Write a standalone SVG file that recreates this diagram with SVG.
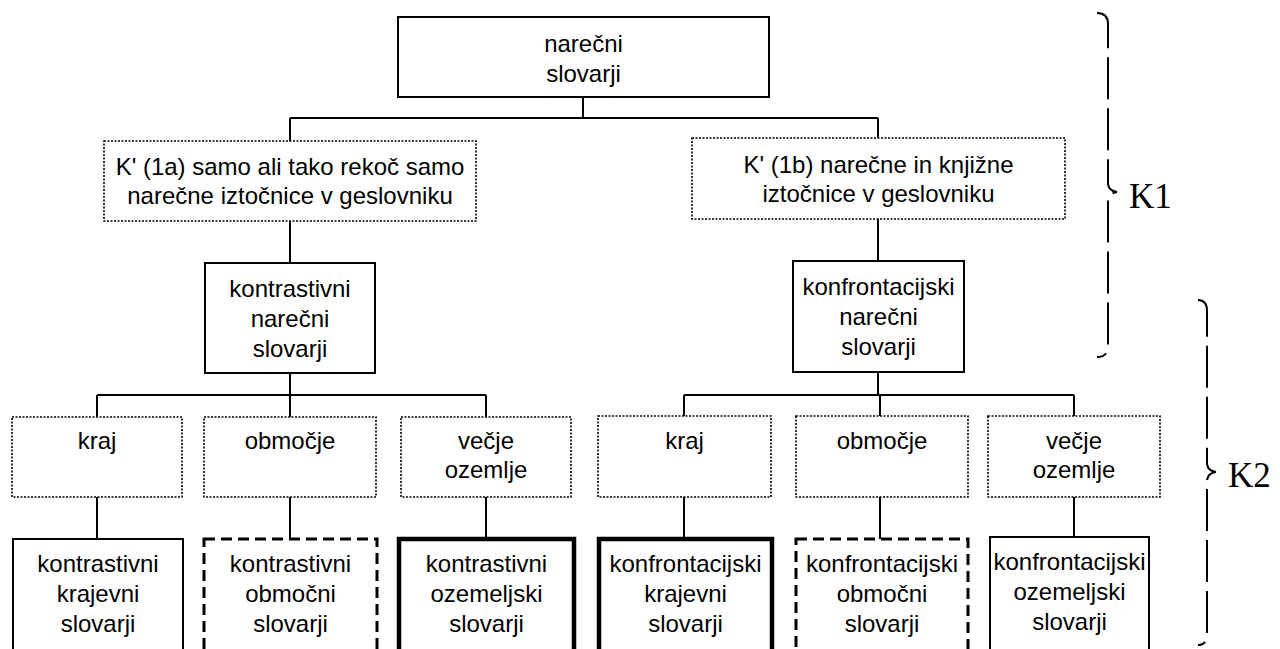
<svg xmlns="http://www.w3.org/2000/svg" width="1280" height="649" viewBox="0 0 1280 649">
<style>
  .bg { fill: #ffffff; }
  rect { fill: #ffffff; stroke: #000000; }
  .solid { stroke-width: 2; }
  .dotted { stroke-width: 1.6; stroke-dasharray: 2 1.5; }
  .dashed { stroke-width: 3; stroke-dasharray: 11 6; }
  .thick { stroke-width: 4.5; }
  text { font-family: "Liberation Sans", Arial, sans-serif; font-size: 24px; fill: #000000; text-anchor: middle; }
  .lbl { font-family: "Liberation Serif", "Times New Roman", serif; font-size: 35px; text-anchor: start; }
  #connectors path { fill: none; stroke: #000000; stroke-width: 2; }
  .brace { fill: none; stroke: #000000; stroke-width: 2; stroke-dasharray: 42 9; }
</style>
<rect class="bg" x="0" y="0" width="1280" height="649" style="stroke:none"/>

<g id="connectors">
  <path d="M583,97 V118 M290,118 H878 M290,118 V141 M878,118 V138"/>
  <path d="M290,221 V263 M878,219 V261"/>
  <path d="M290,373 V395 M97,395 H486 M97,395 V417 M290,395 V417 M486,395 V417"/>
  <path d="M878,372 V395 M684,395 H1074 M684,395 V416 M880,395 V416 M1074,395 V416"/>
  <path d="M97,497 V539 M290,497 V539 M486,497 V539 M684,497 V539 M880,497 V539 M1074,497 V537"/>
</g>

<g id="n-root">
  <rect class="solid" x="398" y="17" width="371" height="80"/>
  <text x="583.5" y="52">narečni</text>
  <text x="583.5" y="82">slovarji</text>
</g>

<g id="n-k1a">
  <rect class="dotted" x="104" y="141" width="372" height="80"/>
  <text x="290" y="175">K' (1a) samo ali tako rekoč samo</text>
  <text x="290" y="204">narečne iztočnice v geslovniku</text>
</g>

<g id="n-k1b">
  <rect class="dotted" x="692" y="138" width="373" height="81"/>
  <text x="878.5" y="173">K' (1b) narečne in knjižne</text>
  <text x="878.5" y="202">iztočnice v geslovniku</text>
</g>

<g id="n-kontrastivni">
  <rect class="solid" x="205" y="263" width="170" height="110"/>
  <text x="290" y="297">kontrastivni</text>
  <text x="290" y="327">narečni</text>
  <text x="290" y="357">slovarji</text>
</g>

<g id="n-konfrontacijski">
  <rect class="solid" x="793" y="261" width="171" height="111"/>
  <text x="878.5" y="295">konfrontacijski</text>
  <text x="878.5" y="325">narečni</text>
  <text x="878.5" y="355">slovarji</text>
</g>

<g id="n-l-kraj">
  <rect class="dotted" x="12" y="417" width="170" height="80"/>
  <text x="97" y="449">kraj</text>
</g>
<g id="n-l-obmocje">
  <rect class="dotted" x="204" y="417" width="172" height="80"/>
  <text x="290" y="449">območje</text>
</g>
<g id="n-l-vecje">
  <rect class="dotted" x="401" y="417" width="170" height="80"/>
  <text x="486" y="449">večje</text>
  <text x="486" y="478">ozemlje</text>
</g>
<g id="n-r-kraj">
  <rect class="dotted" x="598" y="416" width="173" height="81"/>
  <text x="684.5" y="449">kraj</text>
</g>
<g id="n-r-obmocje">
  <rect class="dotted" x="796" y="416" width="172" height="81"/>
  <text x="882" y="449">območje</text>
</g>
<g id="n-r-vecje">
  <rect class="dotted" x="988" y="416" width="172" height="81"/>
  <text x="1074" y="449">večje</text>
  <text x="1074" y="478">ozemlje</text>
</g>

<g id="n-kontr-krajevni">
  <rect class="solid" x="13" y="539" width="170" height="120"/>
  <text x="98" y="572">kontrastivni</text>
  <text x="98" y="602">krajevni</text>
  <text x="98" y="632">slovarji</text>
</g>
<g id="n-kontr-obmocni">
  <rect class="dashed" x="204" y="539" width="173" height="120"/>
  <text x="290.5" y="572">kontrastivni</text>
  <text x="290.5" y="602">območni</text>
  <text x="290.5" y="632">slovarji</text>
</g>
<g id="n-kontr-ozemeljski">
  <rect class="thick" x="399" y="539" width="175" height="120"/>
  <text x="486.5" y="572">kontrastivni</text>
  <text x="486.5" y="602">ozemeljski</text>
  <text x="486.5" y="632">slovarji</text>
</g>
<g id="n-konf-krajevni">
  <rect class="thick" x="599" y="539" width="173" height="120"/>
  <text x="685.5" y="572">konfrontacijski</text>
  <text x="685.5" y="602">krajevni</text>
  <text x="685.5" y="632">slovarji</text>
</g>
<g id="n-konf-obmocni">
  <rect class="dashed" x="796" y="539" width="172" height="120"/>
  <text x="882" y="572">konfrontacijski</text>
  <text x="882" y="602">območni</text>
  <text x="882" y="632">slovarji</text>
</g>
<g id="n-konf-ozemeljski">
  <rect class="solid" x="990" y="537" width="159" height="122"/>
  <text x="1069.5" y="570">konfrontacijski</text>
  <text x="1069.5" y="600">ozemeljski</text>
  <text x="1069.5" y="630">slovarji</text>
</g>

<g id="k1">
  <path class="brace" d="M1097,13 Q1108,13 1108,24 V184 Q1109,191 1117,192 Q1109,193 1108,200 V346 Q1108,357 1097,357"/>
  <text class="lbl" x="1129" y="208">K1</text>
</g>
<g id="k2">
  <path class="brace" d="M1198,300 Q1207,300 1207,311 V464 Q1208,471 1216,472 Q1208,473 1207,480 V634 Q1207,645 1198,645"/>
  <text class="lbl" x="1228" y="487">K2</text>
</g>
</svg>
